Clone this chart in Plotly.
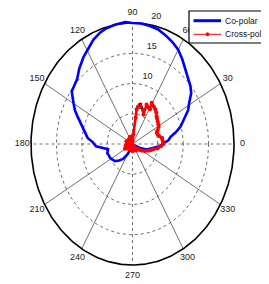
import numpy as np
import plotly.graph_objects as go

# ---------------- data ----------------
CO_THETA = [-30, -24, -18, -8, -4, 0, 5, 9, 13, 17, 22, 27, 31, 36, 40, 46, 50, 55, 60, 65, 70,
            75, 80, 85, 90, 94, 100, 105, 109, 114, 119, 124, 130, 135.5, 140, 144, 150, 154, 157,
            161, 165, 169, 173.5, 178, 183, 190, 197, 203, 207, 213, 219, 226, 233, 240, 250, 262,
            280, 300, 315, 330]
CO_R = [0.4, 1.6, 2.95, 4.5, 5.3, 5.9, 7.1, 7.6, 8.8, 9.9, 11.0, 12.3, 13.0, 14.3, 14.9, 15.6, 16.3,
        17.1, 18.0, 18.6, 19.1, 19.6, 19.8, 20.0, 20.0, 20.2, 20.0, 19.8, 19.5, 18.9, 18.0, 17.3,
        16.3, 15.3, 15.0, 14.8, 13.4, 12.6, 11.8, 10.9, 10.1, 9.6, 8.9, 7.8, 7.2, 4.9, 5.2, 5.0,
        5.0, 4.7, 4.5, 3.8, 3.1, 2.0, 0.9, 0.5, 0.3, 0.4, 0.3, 0.4]

CROSS_THETA = [-40, -35, -30, -25, -20, -15, -12, -8, -4, 0, 4, 8, 10, 14, 18, 21, 25, 29, 32.5, 37,
               41, 44, 48, 52, 56, 61, 59, 63, 67, 66, 70, 77, 80, 82, 82, 84, 88, 96, 104, 112, 120,
               128, 136, 144, 152, 160, 168, 176, 184, 192, 200, 208, 216, 224, 232, 240, 248, 256,
               264, 272, 280, 288, 296, 304, 312, 320]
CROSS_R = [1.2, 1.7, 2.2, 2.75, 3.3, 3.8, 4.2, 5.0, 5.6, 6.1, 6.0, 5.9, 5.9, 5.4, 5.2, 5.15, 5.5, 5.9,
           6.05, 6.2, 6.4, 6.6, 7.0, 7.3, 7.5, 7.8, 6.7, 6.8, 7.1, 5.35, 6.0, 6.7, 6.3, 5.8, 4.4, 1.6,
           0.5, 1.2, 0.4, 1.3, 0.6, 1.1, 0.4, 1.0, 0.5, 1.3, 0.6, 1.1, 0.5, 1.4, 0.7, 1.7, 0.6, 1.2,
           0.5, 1.0, 0.4, 0.9, 0.5, 1.2, 0.4, 1.0, 0.6, 1.3, 0.5, 1.2]

SERIES_NAMES = ["Co-polar", "Cross-polar"]
ANGLE_TICKS = [0, 30, 60, 90, 120, 150, 180, 210, 240, 270, 300, 330]
ANGLE_LABELS = ["0", "30", "60", "90", "120", "150", "180", "210", "240", "270", "300", "330"]
RADIAL_TICKS = [5, 10, 15, 20]
RADIAL_LABELS = ["5", "10", "15", "20"]
R_MAX = 20

# figure size (the page body adds an 8px offset)
W, H = 261, 276


def to_xy(theta_deg, r):
    t = np.radians(np.asarray(theta_deg, dtype=float))
    r = np.asarray(r, dtype=float)
    return r * np.cos(t), r * np.sin(t)


fig = go.Figure()
FAMILY = "Liberation Sans, Arial, sans-serif"
FONT = dict(family=FAMILY, size=9, color="#222222")
LFONT = dict(family=FAMILY, size=8.5, color="#111111")

# grid circles
circ = np.linspace(0, 360, 361)
for rr in RADIAL_TICKS[:-1]:
    cx, cy = to_xy(circ, np.full_like(circ, rr))
    fig.add_trace(go.Scatter(x=cx, y=cy, mode="lines", line=dict(color="#444444", width=0.8, dash="dot"),
                             hoverinfo="skip", showlegend=False))
# spokes
for a in ANGLE_TICKS:
    sx, sy = to_xy([a, a], [0, R_MAX])
    dash = "dot" if a % 90 == 0 else "solid"
    fig.add_trace(go.Scatter(x=sx, y=sy, mode="lines", line=dict(color="#333333", width=0.7, dash=dash),
                             hoverinfo="skip", showlegend=False))
# outer circle
ox, oy = to_xy(circ, np.full_like(circ, R_MAX))
fig.add_trace(go.Scatter(x=ox, y=oy, mode="lines", line=dict(color="black", width=1.6),
                         hoverinfo="skip", showlegend=False))

# data traces
x1, y1 = to_xy(CO_THETA, CO_R)
fig.add_trace(go.Scatter(x=x1, y=y1, mode="lines", line=dict(color="#0000FF", width=2.6),
                         name=SERIES_NAMES[0], showlegend=False))
x2, y2 = to_xy(CROSS_THETA, CROSS_R)
fig.add_trace(go.Scatter(x=x2, y=y2, mode="lines+markers", line=dict(color="#FF0000", width=2.6),
                         marker=dict(color="#FF0000", size=4), name=SERIES_NAMES[1], showlegend=False))

# angle labels
ax, ay = to_xy(ANGLE_TICKS, [21.7] * len(ANGLE_TICKS))
fig.add_trace(go.Scatter(x=ax, y=ay, mode="text", text=ANGLE_LABELS, textfont=FONT,
                         textposition="middle center", hoverinfo="skip", showlegend=False,
                         cliponaxis=False))
# radial labels
rx, ry = to_xy([80] * len(RADIAL_TICKS), [v + 1.3 for v in RADIAL_TICKS])
fig.add_trace(go.Scatter(x=rx, y=ry, mode="text", text=RADIAL_LABELS, textfont=FONT,
                         textposition="middle right", hoverinfo="skip", showlegend=False,
                         cliponaxis=False))

# ---- legend box (MATLAB style, clipped at the right edge) ----
def px(x):
    return x / W


def py(y):
    return 1 - y / H


shapes = [
    dict(type="rect", xref="paper", yref="paper", x0=px(181), x1=px(300), y0=py(35), y1=py(3),
         line=dict(color="black", width=1.2), fillcolor="white", layer="above"),
    dict(type="line", xref="paper", yref="paper", x0=px(185.5), x1=px(213), y0=py(12.7), y1=py(12.7),
         line=dict(color="#0000FF", width=3), layer="above"),
    dict(type="line", xref="paper", yref="paper", x0=px(185.5), x1=px(213), y0=py(26.3), y1=py(26.3),
         line=dict(color="#FF0000", width=1), layer="above"),
    dict(type="circle", xref="paper", yref="paper", x0=px(198), x1=px(201), y0=py(27.8), y1=py(24.8),
         line=dict(color="#FF0000", width=1), fillcolor="#FF0000", layer="above"),
]
annotations = [
    dict(xref="paper", yref="paper", x=px(215.5), y=py(12.7), text=SERIES_NAMES[0], showarrow=False,
         xanchor="left", yanchor="middle", font=LFONT, borderpad=0),
    dict(xref="paper", yref="paper", x=px(215.5), y=py(26.3), text=SERIES_NAMES[1], showarrow=False,
         xanchor="left", yanchor="middle", font=LFONT, borderpad=0),
]

xr = [-124.5 / 5.075, (W - 124.5) / 5.075]
yr = [-(H - 136) / 6.05, 136 / 6.05]
fig.update_xaxes(visible=False, range=xr, fixedrange=True)
fig.update_yaxes(visible=False, range=yr, fixedrange=True)
fig.update_layout(
    width=W, height=H,
    margin=dict(l=0, r=0, t=0, b=0, pad=0, autoexpand=False),
    paper_bgcolor="white", plot_bgcolor="white",
    showlegend=False,
    shapes=shapes, annotations=annotations,
)
fig.write_html("out.html")
